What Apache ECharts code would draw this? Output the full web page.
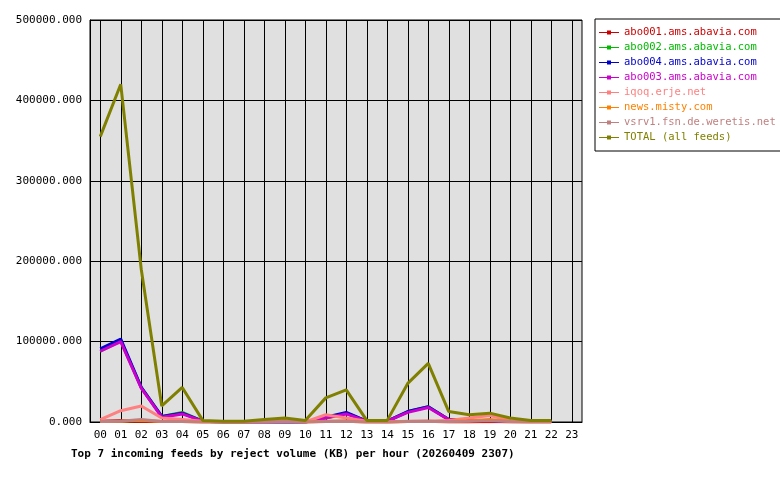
<!DOCTYPE html>
<html>
<head>
<meta charset="utf-8">
<script src="https://cdn.jsdelivr.net/npm/echarts@6/dist/echarts.min.js"></script>
<style>html,body{margin:0;background:#fff}#chart{width:780px;height:480px}</style>
</head>
<body>
<div id="chart"></div>
<script>
var hours = ['00','01','02','03','04','05','06','07','08','09','10','11','12','13','14','15','16','17','18','19','20','21','22','23'];
var feedNames = ['abo001.ams.abavia.com','abo002.ams.abavia.com','abo004.ams.abavia.com','abo003.ams.abavia.com','iqoq.erje.net','news.misty.com','vsrv1.fsn.de.weretis.net','TOTAL (all feeds)'];
var feedColors = ['#cc0000','#00bb00','#0000cc','#cc00cc','#ff8080','#ff8000','#c08080','#808000'];
var abo001 = [1000,1500,1000,500,500,0,0,0,0,0,0,500,1000,0,0,500,1000,0,0,500,0,0,0,null];
var abo002 = [88000,101000,43000,7000,12000,1000,0,0,0,0,0,5000,11000,1000,1000,13000,19000,3000,2000,2000,1000,500,500,null];
var abo004 = [91000,103000,43000,7000,11000,1000,0,0,0,0,0,6000,12000,1000,1000,13000,19000,3000,2000,2000,1000,500,500,null];
var abo003 = [88000,100000,42000,6000,10000,1000,0,0,0,0,0,5000,10000,1000,1000,12000,18000,3000,2000,2000,1000,500,500,null];
var iqoq = [3000,14000,20000,5000,3000,1000,0,0,0,1000,0,9000,5000,1000,0,1000,1000,2000,5000,8000,2000,500,500,null];
var misty = [500,1000,2000,500,500,0,0,0,1000,2000,0,1000,1000,0,0,500,500,1000,1500,3000,500,0,0,null];
var vsrv1 = [500,1000,3000,500,500,0,0,0,500,1000,0,500,1000,0,0,500,500,500,1000,2000,500,0,0,null];
var total = [355000,420000,190000,20000,43000,2000,1000,1000,3000,5000,2000,30000,40000,2000,2000,48000,73000,13000,9000,11000,5000,2000,2000,null];
var yTicks = [0,100000,200000,300000,400000,500000];

var seriesData = [abo001,abo002,abo004,abo003,iqoq,misty,vsrv1,total];
var font = 'DejaVu Sans Mono';
var chart = echarts.init(document.getElementById('chart'));

var series = seriesData.map(function (d, i) {
  return {
    name: feedNames[i], type: 'line', data: d, color: feedColors[i], z: 3,
    symbol: 'none', lineStyle: {width: 3, color: feedColors[i]}
  };
});
// vertical grid lines at each hour
series[0].markLine = {
  silent: true, symbol: 'none', z: 1, label: {show: false},
  lineStyle: {color: '#000', width: 1, type: 'solid'},
  data: hours.map(function (h) { return {xAxis: h}; })
};

chart.setOption({
  backgroundColor: '#ffffff',
  animation: false,
  textStyle: {fontFamily: font},
  title: {
    text: 'Top 7 incoming feeds by reject volume (KB) per hour (20260409 2307)',
    left: 66, top: 444,
    textStyle: {fontFamily: font, fontSize: 11, fontWeight: 'bold', color: '#000'}
  },
  legend: {
    orient: 'vertical', left: 595, top: 19, width: 180,
    padding: [8, 8, 8, 4], itemGap: 4,
    borderColor: '#000', borderWidth: 1,
    itemWidth: 20, itemHeight: 10,
    icon: 'path://M0,4.5L8,4.5L8,3L12,3L12,4.5L20,4.5L20,5.5L12,5.5L12,7L8,7L8,5.5L0,5.5Z',
    data: feedNames.map(function (n, i) {
      return {name: n, itemStyle: {color: feedColors[i]}, textStyle: {color: feedColors[i], fontFamily: font, fontSize: 10.5}};
    })
  },
  grid: {left: 90, right: 198, top: 20, bottom: 58, show: true, backgroundColor: '#e0e0e0', borderColor: '#000', borderWidth: 1},
  xAxis: {
    type: 'category', data: hours, boundaryGap: true,
    axisLine: {lineStyle: {color: '#000'}},
    axisTick: {alignWithLabel: true, length: 5, lineStyle: {color: '#000'}},
    axisLabel: {color: '#000', fontSize: 11, fontFamily: font, margin: 8, interval: 0},
    splitLine: {show: false}
  },
  yAxis: {
    type: 'value', min: yTicks[0], max: yTicks[yTicks.length - 1], interval: 100000,
    axisLine: {show: true, lineStyle: {color: '#000'}},
    axisTick: {show: false},
    axisLabel: {color: '#000', fontSize: 11, fontFamily: font, margin: 8, formatter: function (v) { return v.toFixed(3); }},
    splitLine: {lineStyle: {color: '#000', width: 1}}
  },
  series: series
});
</script>
</body>
</html>
